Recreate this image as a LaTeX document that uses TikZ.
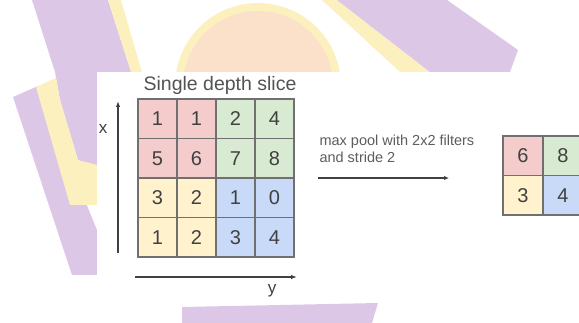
\documentclass[tikz,border=0pt]{standalone}
\usepackage{fontspec}
\setmainfont{Liberation Sans}
\usetikzlibrary{positioning,arrows.meta}
\definecolor{lilac}{HTML}{DCC7E7}
\definecolor{butter}{HTML}{FBF0BE}
\definecolor{peach}{HTML}{FBE1CA}
\definecolor{cellred}{HTML}{F4CCCC}
\definecolor{cellgreen}{HTML}{D9EAD3}
\definecolor{cellyellow}{HTML}{FFF2CC}
\definecolor{cellblue}{HTML}{C9DAF8}
\definecolor{ink}{HTML}{404040}
\definecolor{gridgrey}{HTML}{707070}
\tikzset{
  cell/.style={draw=gridgrey,line width=1.1pt,minimum width=39pt,minimum height=39.5pt,inner sep=0pt,text=ink,font=\fontsize{20}{20}\selectfont},
  outcell/.style={cell,minimum width=40pt},
  axisline/.style={draw=ink,line width=1.4pt,-{Latex[length=6pt,width=4.5pt]}},
}

\begin{document}
\begin{tikzpicture}[x=1pt,y=-1pt]
\useasboundingbox (0,0) rectangle (579,323);
\clip (0,0) rectangle (579,323);
% faded shapes behind the card
\fill[butter] (258,86) circle (83);
\fill[peach] (258,86) circle (75);
\fill[butter] (322,0) -- (337,0) -- (430,72) -- (400,72) -- cycle;
\fill[lilac] (337,0) -- (447,0) -- (518,50) -- (510,72) -- (430,72) -- cycle;
\fill[lilac] (32,0) -- (108,0) -- (140,100) -- (97,170) -- (78,160) -- (60,100) -- (55,72) -- cycle;
\fill[butter] (108,0) -- (121,0) -- (150,100) -- (140,100) -- cycle;
\fill[lilac] (13,97) -- (38,86) -- (97,230) -- (97,275) -- (72,275) -- cycle;
\fill[butter] (36,87) -- (56,78) -- (60,100) -- (78,160) -- (97,165) -- (97,205) -- (70,205) -- cycle;
\fill[lilac] (182,307) -- (378,303) -- (372,323) -- (182,323) -- cycle;
% the card
\fill[white] (97,72) rectangle (579,300);

% input slice
\foreach \r/\c/\v/\col in {1/1/1/cellred,1/2/1/cellred,1/3/2/cellgreen,1/4/4/cellgreen,
                          2/1/5/cellred,2/2/6/cellred,2/3/7/cellgreen,2/4/8/cellgreen,
                          3/1/3/cellyellow,3/2/2/cellyellow,3/3/1/cellblue,3/4/0/cellblue,
                          4/1/1/cellyellow,4/2/2/cellyellow,4/3/3/cellblue,4/4/4/cellblue}
  \node[cell,fill=\col] (in\r\c) at (118.5+39*\c,79.25+39.5*\r) {\v};
\node[text=ink!90,font=\fontsize{19.5}{20}\selectfont] (slice) at (220,85) {Single depth slice};

% axes
\coordinate (xfoot) at (118,253);
\coordinate (xtip) at (118,101);
\draw[axisline] (xfoot) -- (xtip);
\node[text=ink,font=\fontsize{17}{17}\selectfont] (xlab) at (103,129) {x};
\coordinate (yfoot) at (135,277);
\coordinate (ytip) at (297,277);
\draw[axisline] (yfoot) -- (ytip);
\node[text=ink,font=\fontsize{17}{17}\selectfont] (ylab) at (272,291) {y};

% pooling step
\node[anchor=west,align=left,text=ink!85,font=\fontsize{14.5}{17}\selectfont] (poolnote) at (316,148.5) {max pool with 2x2 filters\\and stride 2};
\coordinate (poolfrom) at (318,178);
\coordinate (poolto) at (449,178);
\draw[axisline,line width=1.2pt,-{Latex[length=5pt,width=4.5pt]}] (poolfrom) -- (poolto);

% pooled output
\foreach \r/\c/\v/\col in {1/1/6/cellred,1/2/8/cellgreen,2/1/3/cellyellow,2/2/4/cellblue}
  \node[outcell,fill=\col] (out\r\c) at (483+40*\c,116.25+39.5*\r) {\v};
\end{tikzpicture}
\end{document}
